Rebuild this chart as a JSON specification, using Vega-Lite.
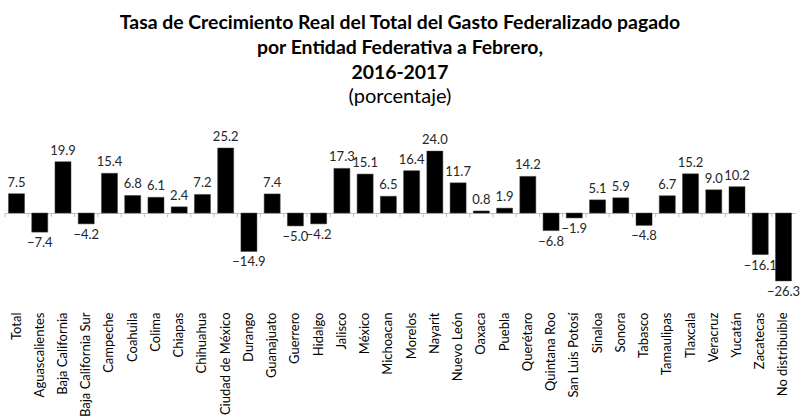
{
  "$schema": "https://vega.github.io/schema/vega-lite/v6.json",
  "autosize": {"type": "none"},
  "width": 790,
  "height": 168,
  "padding": {"left": 5, "top": 140, "right": 6, "bottom": 111},
  "background": "white",
  "title": {
    "text": ["Tasa de Crecimiento Real del Total del Gasto Federalizado pagado", "por Entidad Federativa a Febrero,", "2016-2017"],
    "subtitle": "(porcentaje)",
    "anchor": "middle",
    "font": "Lato",
    "fontSize": 19.4,
    "fontWeight": "bold",
    "color": "#000000",
    "lineHeight": 25,
    "subtitleFont": "Lato",
    "subtitleFontSize": 20,
    "subtitleColor": "#000000",
    "subtitlePadding": 4,
    "subtitleLineHeight": 22,
    "offset": 23
  },
  "data": {"values": [
    {"entidad": "Total", "valor": 7.5},
    {"entidad": "Aguascalientes", "valor": -7.4},
    {"entidad": "Baja California", "valor": 19.9},
    {"entidad": "Baja California Sur", "valor": -4.2},
    {"entidad": "Campeche", "valor": 15.4},
    {"entidad": "Coahuila", "valor": 6.8},
    {"entidad": "Colima", "valor": 6.1},
    {"entidad": "Chiapas", "valor": 2.4},
    {"entidad": "Chihuahua", "valor": 7.2},
    {"entidad": "Ciudad de México", "valor": 25.2},
    {"entidad": "Durango", "valor": -14.9},
    {"entidad": "Guanajuato", "valor": 7.4},
    {"entidad": "Guerrero", "valor": -5.0},
    {"entidad": "Hidalgo", "valor": -4.2},
    {"entidad": "Jalisco", "valor": 17.3},
    {"entidad": "México", "valor": 15.1},
    {"entidad": "Michoacan", "valor": 6.5},
    {"entidad": "Morelos", "valor": 16.4},
    {"entidad": "Nayarit", "valor": 24.0},
    {"entidad": "Nuevo León", "valor": 11.7},
    {"entidad": "Oaxaca", "valor": 0.8},
    {"entidad": "Puebla", "valor": 1.9},
    {"entidad": "Querétaro", "valor": 14.2},
    {"entidad": "Quintana Roo", "valor": -6.8},
    {"entidad": "San Luis Potosí", "valor": -1.9},
    {"entidad": "Sinaloa", "valor": 5.1},
    {"entidad": "Sonora", "valor": 5.9},
    {"entidad": "Tabasco", "valor": -4.8},
    {"entidad": "Tamaulipas", "valor": 6.7},
    {"entidad": "Tlaxcala", "valor": 15.2},
    {"entidad": "Veracruz", "valor": 9.0},
    {"entidad": "Yucatán", "valor": 10.2},
    {"entidad": "Zacatecas", "valor": -16.1},
    {"entidad": "No distribuible", "valor": -26.3}
  ]},
  "config": {"view": {"stroke": null}},
  "layer": [
    {
      "mark": {"type": "bar", "color": "#000000", "stroke": "#404040", "strokeWidth": 0.5},
      "encoding": {
        "x": {
          "field": "entidad", "type": "nominal", "sort": null,
          "scale": {"paddingInner": 0.31, "paddingOuter": 0.15},
          "axis": {"orient": "bottom", "title": null, "labelAngle": -90, "labelAlign": "right", "labelBaseline": "middle", "ticks": false, "domain": false, "labelPadding": 4, "labelFont": "Lato", "labelFontSize": 13, "labelColor": "#000000", "labelLimit": 200}
        },
        "y": {
          "field": "valor", "type": "quantitative",
          "scale": {"domain": [-36.8, 28.3], "nice": false, "zero": false},
          "axis": {"values": [0], "grid": true, "gridColor": "#bfbfbf", "gridWidth": 1, "labels": false, "ticks": false, "domain": false, "title": null}
        }
      }
    },
    {
      "mark": {"type": "rule", "color": "#bfbfbf", "strokeWidth": 1},
      "encoding": {
        "x": {"field": "entidad", "type": "nominal", "sort": null, "bandPosition": -0.2246},
        "y": {"datum": 0, "type": "quantitative"},
        "y2": {"datum": -1.6}
      }
    },
    {
      "transform": [{"filter": "datum.valor >= 0"}],
      "mark": {"type": "text", "baseline": "bottom", "dy": -4, "font": "Lato", "fontSize": 13, "color": "#262626"},
      "encoding": {
        "x": {"field": "entidad", "type": "nominal", "sort": null},
        "y": {"field": "valor", "type": "quantitative"},
        "text": {"field": "valor", "type": "quantitative", "format": ".1f"}
      }
    },
    {
      "transform": [{"filter": "datum.valor < 0"}],
      "mark": {"type": "text", "baseline": "top", "dy": 5, "font": "Lato", "fontSize": 13, "color": "#262626"},
      "encoding": {
        "x": {"field": "entidad", "type": "nominal", "sort": null},
        "y": {"field": "valor", "type": "quantitative"},
        "text": {"field": "valor", "type": "quantitative", "format": ".1f"}
      }
    }
  ]
}
